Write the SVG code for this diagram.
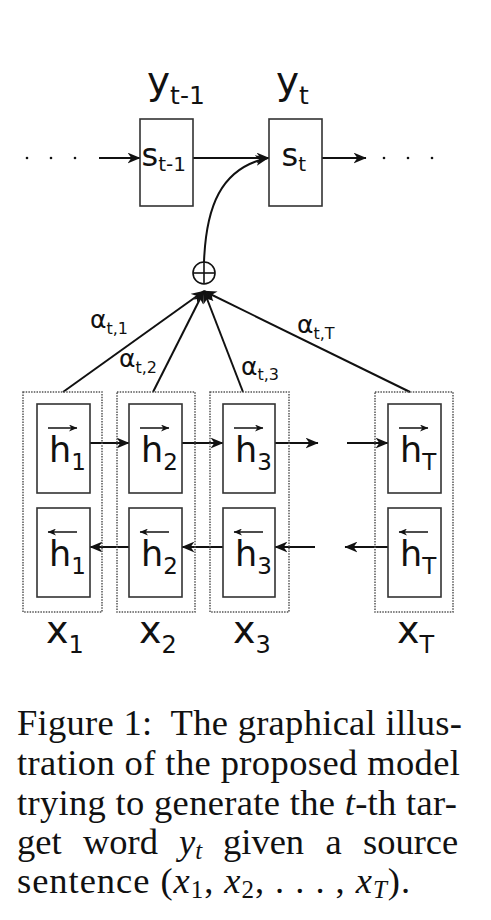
<svg xmlns="http://www.w3.org/2000/svg" width="491" height="920" viewBox="0 0 491 920">
<style>
.box{fill:#fff;stroke:#333;stroke-width:1.6}
.dbox{fill:none;stroke:#555;stroke-width:1.5;stroke-dasharray:1.5 1.2}
.lbl{font-family:"DejaVu Sans","Liberation Sans",sans-serif;fill:#111}
.edge{fill:none;stroke:#111;stroke-width:2}
.vec{fill:none;stroke:#111;stroke-width:1.5}
.cap{font-family:"Liberation Serif",serif;font-size:36.5px;fill:#111}
.it{font-style:italic}
</style>
<defs>
<marker id="ah" viewBox="0 0 12 10" refX="11.5" refY="5" markerWidth="13" markerHeight="11" orient="auto" markerUnits="userSpaceOnUse">
<path d="M0,0 L12,5 L0,10 L3.5,5 z" fill="#111"/>
</marker>
<marker id="sh" viewBox="0 0 12 10" refX="11.5" refY="5" markerWidth="9" markerHeight="7" orient="auto" markerUnits="userSpaceOnUse">
<path d="M0,0 L12,5 L0,10 L3.5,5 z" fill="#111"/>
</marker>
</defs>
<rect width="491" height="920" fill="#fff"/>

<g id="connectors">
<g fill="#111">
<circle cx="27" cy="158" r="1.3"/><circle cx="51" cy="158" r="1.3"/><circle cx="75" cy="158" r="1.3"/>
<circle cx="384" cy="158" r="1.3"/><circle cx="408" cy="158" r="1.3"/><circle cx="432" cy="158" r="1.3"/>
</g>
<line class="edge" x1="99" y1="158" x2="140" y2="158" marker-end="url(#ah)"/>
<line class="edge" x1="193" y1="158" x2="269" y2="158" marker-end="url(#ah)"/>
<line class="edge" x1="322" y1="158" x2="366" y2="158" marker-end="url(#ah)"/>
<path class="edge" d="M204,262 C206,208 220,168 268,158" marker-end="url(#ah)"/>
<line class="edge" x1="63" y1="392" x2="204" y2="291" marker-end="url(#ah)"/>
<line class="edge" x1="153" y1="392" x2="204" y2="291" marker-end="url(#ah)"/>
<line class="edge" x1="243" y1="392" x2="204" y2="291" marker-end="url(#ah)"/>
<line class="edge" x1="410" y1="392" x2="204" y2="291" marker-end="url(#ah)"/>
<line class="edge" x1="90" y1="443" x2="129" y2="443" marker-end="url(#ah)"/>
<line class="edge" x1="182" y1="443" x2="223" y2="443" marker-end="url(#ah)"/>
<line class="edge" x1="275" y1="443" x2="318" y2="443" marker-end="url(#ah)"/>
<line class="edge" x1="347" y1="443" x2="388" y2="443" marker-end="url(#ah)"/>
<line class="edge" x1="129" y1="547" x2="90" y2="547" marker-end="url(#ah)"/>
<line class="edge" x1="223" y1="547" x2="182" y2="547" marker-end="url(#ah)"/>
<line class="edge" x1="315" y1="547" x2="275" y2="547" marker-end="url(#ah)"/>
<line class="edge" x1="388" y1="547" x2="345" y2="547" marker-end="url(#ah)"/>
<g class="lbl">
<text x="90" y="328" font-size="25">α<tspan font-size="16" dy="6">t,1</tspan></text>
<text x="119" y="367" font-size="25">α<tspan font-size="16" dy="6">t,2</tspan></text>
<text x="241" y="375" font-size="25">α<tspan font-size="16" dy="5">t,3</tspan></text>
<text x="297" y="333" font-size="25">α<tspan font-size="16" dy="6">t,T</tspan></text>
</g>
</g>

<g id="s_prev">
<rect class="box" x="140" y="119" width="53" height="87"/>
<text class="lbl" x="147" y="94" font-size="39">y<tspan font-size="25" dy="10">t-1</tspan></text>
<text class="lbl" x="141.5" y="166" font-size="32">s<tspan font-size="20" dy="5">t-1</tspan></text>
</g>
<g id="s_t">
<rect class="box" x="269" y="119" width="53" height="87"/>
<text class="lbl" x="276" y="94" font-size="39">y<tspan font-size="25" dy="10">t</tspan></text>
<text class="lbl" x="281.5" y="166" font-size="32">s<tspan font-size="20" dy="5">t</tspan></text>
</g>
<g id="oplus">
<circle cx="204" cy="273" r="11" fill="#fff" stroke="#111" stroke-width="1.6"/>
<line x1="204" y1="262" x2="204" y2="284" stroke="#111" stroke-width="1.6"/>
<line x1="193" y1="273" x2="215" y2="273" stroke="#111" stroke-width="1.6"/>
</g>

<g id="enc1">
<rect class="dbox" x="23" y="392" width="79" height="220"/>
<rect class="box" x="37" y="404" width="53" height="89"/>
<rect class="box" x="37" y="508" width="53" height="89"/>
<line class="vec" x1="48" y1="428" x2="77" y2="428" marker-end="url(#sh)"/>
<line class="vec" x1="77" y1="532" x2="48" y2="532" marker-end="url(#sh)"/>
<text class="lbl" x="49" y="462" font-size="35">h<tspan font-size="23" dy="8">1</tspan></text>
<text class="lbl" x="49" y="566" font-size="35">h<tspan font-size="23" dy="8">1</tspan></text>
<text class="lbl" x="46" y="643" font-size="38">x<tspan font-size="24" dy="10">1</tspan></text>
</g>
<g id="enc2">
<rect class="dbox" x="117" y="392" width="78" height="220"/>
<rect class="box" x="129" y="404" width="53" height="89"/>
<rect class="box" x="129" y="508" width="53" height="89"/>
<line class="vec" x1="140" y1="428" x2="169" y2="428" marker-end="url(#sh)"/>
<line class="vec" x1="169" y1="532" x2="140" y2="532" marker-end="url(#sh)"/>
<text class="lbl" x="141" y="462" font-size="35">h<tspan font-size="23" dy="8">2</tspan></text>
<text class="lbl" x="141" y="566" font-size="35">h<tspan font-size="23" dy="8">2</tspan></text>
<text class="lbl" x="139" y="643" font-size="38">x<tspan font-size="24" dy="10">2</tspan></text>
</g>
<g id="enc3">
<rect class="dbox" x="210" y="392" width="79" height="220"/>
<rect class="box" x="223" y="404" width="52" height="89"/>
<rect class="box" x="223" y="508" width="52" height="89"/>
<line class="vec" x1="234" y1="428" x2="263" y2="428" marker-end="url(#sh)"/>
<line class="vec" x1="263" y1="532" x2="234" y2="532" marker-end="url(#sh)"/>
<text class="lbl" x="235" y="462" font-size="35">h<tspan font-size="23" dy="8">3</tspan></text>
<text class="lbl" x="235" y="566" font-size="35">h<tspan font-size="23" dy="8">3</tspan></text>
<text class="lbl" x="233" y="643" font-size="38">x<tspan font-size="24" dy="10">3</tspan></text>
</g>
<g id="encT">
<rect class="dbox" x="375" y="392" width="78" height="220"/>
<rect class="box" x="388" y="404" width="53" height="89"/>
<rect class="box" x="388" y="508" width="53" height="89"/>
<line class="vec" x1="399" y1="428" x2="428" y2="428" marker-end="url(#sh)"/>
<line class="vec" x1="428" y1="532" x2="399" y2="532" marker-end="url(#sh)"/>
<text class="lbl" x="400" y="462" font-size="35">h<tspan font-size="23" dy="8">T</tspan></text>
<text class="lbl" x="400" y="566" font-size="35">h<tspan font-size="23" dy="8">T</tspan></text>
<text class="lbl" x="397" y="643" font-size="38">x<tspan font-size="24" dy="10">T</tspan></text>
</g>

<g id="caption" class="cap">
<text x="17" y="735" textLength="445" lengthAdjust="spacing" xml:space="preserve">Figure 1:  The graphical illus-</text>
<text x="17" y="775" textLength="443" lengthAdjust="spacing">tration of the proposed model</text>
<text x="17" y="815" textLength="440" lengthAdjust="spacing">trying to generate the <tspan class="it">t</tspan>-th tar-</text>
<text y="854"><tspan x="17">get</tspan><tspan x="83">word</tspan><tspan x="179" class="it">y</tspan><tspan class="it" font-size="25" dy="5">t</tspan><tspan x="223" dy="-5">given</tspan><tspan x="325.5">a</tspan><tspan x="363">source</tspan></text>
<text x="17" y="893" textLength="393" lengthAdjust="spacing">sentence (<tspan class="it">x</tspan><tspan font-size="25" dy="5">1</tspan><tspan dy="-5">, </tspan><tspan class="it">x</tspan><tspan font-size="25" dy="5">2</tspan><tspan dy="-5">, . . . , </tspan><tspan class="it">x</tspan><tspan class="it" font-size="25" dy="5">T</tspan><tspan dy="-5">).</tspan></text>
</g>
</svg>
